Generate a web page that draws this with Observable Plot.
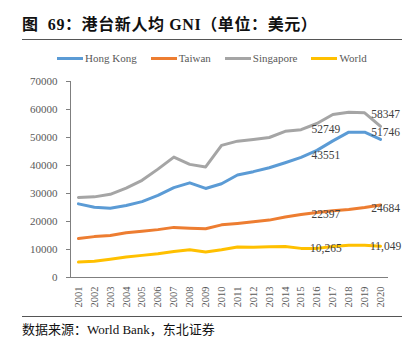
<!DOCTYPE html>
<html>
<head>
<meta charset="utf-8">
<script src="https://cdn.jsdelivr.net/npm/d3@7"></script>
<script src="https://cdn.jsdelivr.net/npm/@observablehq/plot@0.6"></script>
<style>
  html, body { margin: 0; padding: 0; background: #fff; }
  #wrap { position: relative; width: 412px; height: 345px; overflow: hidden; font-family: "Liberation Serif", "Noto Sans CJK SC", serif; }
  #title { position: absolute; left: 22px; top: 15px; font-size: 16px; font-weight: bold; color: #111; white-space: pre; font-family: "Liberation Serif", "Noto Sans CJK SC", serif; line-height: 20px; letter-spacing: 0.6px; }
  .rule { position: absolute; left: 22px; width: 380px; height: 1px; background: #555; }
  #legend { position: absolute; left: 57px; top: 51px; display: flex; gap: 14px; font-size: 11px; color: #595959; line-height: 14px; }
  .item { display: flex; align-items: center; gap: 2px; }
  .sw { width: 26px; height: 3px; }
  #chart { position: absolute; left: 0; top: 70px; }
  #caption { position: absolute; left: 22px; top: 321px; font-size: 13px; color: #111; white-space: pre; line-height: 18px; font-family: "Liberation Serif", "Noto Sans CJK SC", serif; }
</style>
</head>
<body>
<div id="wrap">
  <div id="title"></div>
  <div class="rule" style="top:39px"></div>
  <div id="legend"></div>
  <div id="chart"></div>
  <div class="rule" style="top:316px"></div>
  <div id="caption"></div>
</div>
<script>
const titleText = "图  69：港台新人均 GNI（单位：美元）";
const captionText = "数据来源：World Bank，东北证券";

const years = [2001, 2002, 2003, 2004, 2005, 2006, 2007, 2008, 2009, 2010,
               2011, 2012, 2013, 2014, 2015, 2016, 2017, 2018, 2019, 2020];
const seriesNames = ["Hong Kong", "Taiwan", "Singapore", "World"];
const seriesColors = ["#5B9BD5", "#ED7D31", "#A5A5A5", "#FFC000"];

const hongKong  = [26300, 25100, 24750, 25700, 27100, 29300, 32100, 33800, 31800, 33500,
                   36600, 37800, 39200, 41000, 42900, 45400, 48800, 51900, 51900, 49300];
const taiwan    = [13900, 14600, 15000, 16000, 16500, 17100, 17900, 17600, 17400, 18800,
                   19300, 19900, 20500, 21600, 22500, 23200, 23800, 24300, 25000, 25900];
const singapore = [28600, 28800, 29700, 31900, 34700, 38700, 43000, 40400, 39500, 47200,
                   48700, 49300, 50000, 52200, 52800, 55000, 58200, 59000, 58800, 54000];
const world     = [5500, 5800, 6500, 7300, 7900, 8500, 9300, 9900, 9100, 9900,
                   10900, 10800, 11000, 11100, 10400, 10400, 11100, 11500, 11500, 11200];

const yTicks = [0, 10000, 20000, 30000, 40000, 50000, 60000, 70000];

// data labels: text, value, year it is attached to
const labelTexts  = ["58347", "52749", "51746", "43551", "22397", "24684", "10,265", "11,049"];
const labelValues = [58347, 52749, 51746, 43551, 22397, 24684, 10265, 11049];
const labelYears  = [2020, 2017, 2020, 2017, 2017, 2020, 2017, 2020];

document.getElementById("title").textContent = titleText;
document.getElementById("caption").textContent = captionText;

const legend = document.getElementById("legend");
seriesNames.forEach((n, i) => {
  const it = document.createElement("div");
  it.className = "item";
  const sw = document.createElement("div");
  sw.className = "sw";
  sw.style.background = seriesColors[i];
  const t = document.createElement("span");
  t.textContent = n;
  it.appendChild(sw); it.appendChild(t);
  legend.appendChild(it);
});

const allValues = [hongKong, taiwan, singapore, world];
const data = seriesNames.flatMap((s, si) => years.map((y, i) => ({series: s, year: y, value: allValues[si][i]})));
const labels = labelTexts.map((t, i) => ({text: t, value: labelValues[i], year: labelYears[i]}));
const labelsMid = labels.filter(d => d.year === 2017);
const labelsEnd = labels.filter(d => d.year === 2020);

const chart = Plot.plot({
  width: 412,
  height: 245,
  marginTop: 11,
  marginBottom: 38,
  marginLeft: 70,
  marginRight: 24,
  style: {fontFamily: "'Liberation Serif', serif", fontSize: "11px", color: "#595959", background: "transparent"},
  x: {domain: [2000.5, 2020.5]},
  y: {domain: [0, 70000]},
  color: {domain: seriesNames, range: seriesColors},
  marks: [
    Plot.axisY({ticks: yTicks, tickSize: 4, tickPadding: 9, tickFormat: d => String(d), label: null, stroke: "#7f7f7f", fill: "#595959"}),
    Plot.axisX({ticks: years, tickSize: 0, tickRotate: -90, tickPadding: 9, tickFormat: d => String(d), label: null, fill: "#595959", fontSize: 10.5}),
    Plot.ruleX([2000.5], {y1: 0, y2: 70000, stroke: "#7f7f7f"}),
    Plot.ruleY([0], {stroke: "#7f7f7f"}),
    Plot.line(data, {x: "year", y: "value", z: "series", stroke: "series", strokeWidth: 3, strokeLinejoin: "round", strokeLinecap: "round"}),
    Plot.text(labelsMid, {x: "year", y: "value", text: "text", dx: -7, fill: "#404040", fontSize: 11.5, textAnchor: "middle", lineAnchor: "middle"}),
    Plot.text(labelsEnd, {x: "year", y: "value", text: "text", dx: 5, fill: "#404040", fontSize: 11.5, textAnchor: "middle", lineAnchor: "middle"})
  ]
});
document.getElementById("chart").appendChild(chart);
</script>
</body>
</html>
